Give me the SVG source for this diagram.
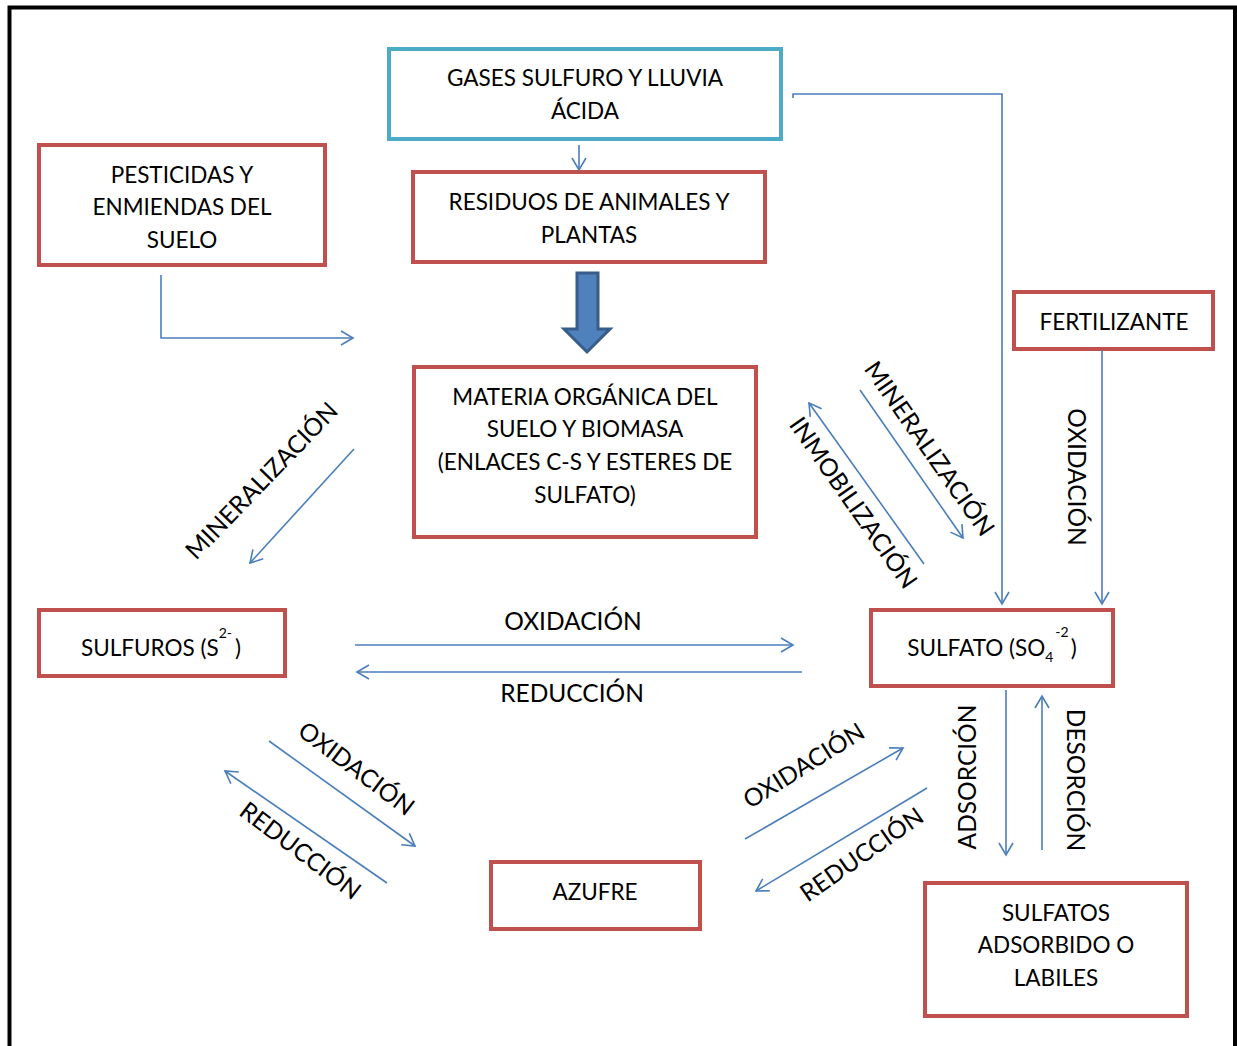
<svg xmlns="http://www.w3.org/2000/svg" width="1237" height="1046" viewBox="0 0 1237 1046">
<style>
.box{fill:#fff;stroke:#C0504D;stroke-width:4}
.cyan{fill:#fff;stroke:#4BACC6;stroke-width:4}
.t{font-family:Lato,"Open Sans",sans-serif;font-size:22.5px;fill:#000;text-anchor:middle}
.l{font-family:Lato,"Open Sans",sans-serif;font-size:24.5px;fill:#000;text-anchor:middle}
.c{fill:none;stroke:#4A7EBB;stroke-width:1.6}
</style>
<defs>
<marker id="ah" markerUnits="userSpaceOnUse" viewBox="-14 -9 16 18" markerWidth="16" markerHeight="18" refX="0" refY="0" orient="auto" overflow="visible">
<path d="M-12,-7 L0,0 L-12,7" fill="none" stroke="#4A7EBB" stroke-width="1.6"/>
</marker>
</defs>
<rect width="1237" height="1046" fill="#fff"/>
<path d="M9.5,1046 V7.5 H1235 V1046" fill="none" stroke="#000" stroke-width="4"/>

<g id="gases"><rect class="cyan" x="389" y="49" width="392" height="90"/>
<text class="t" x="585" y="86">GASES SULFURO Y LLUVIA</text><text class="t" x="585" y="119">ÁCIDA</text></g>
<g id="residuos"><rect class="box" x="413" y="172" width="352" height="90"/>
<text class="t" x="589" y="210">RESIDUOS DE ANIMALES Y</text><text class="t" x="589" y="243">PLANTAS</text></g>
<g id="pesticidas"><rect class="box" x="39" y="145" width="286" height="120"/>
<text class="t" x="182" y="183">PESTICIDAS Y</text><text class="t" x="182" y="215">ENMIENDAS DEL</text><text class="t" x="182" y="248">SUELO</text></g>
<g id="materia"><rect class="box" x="414" y="367" width="342" height="170"/>
<text class="t" x="585" y="405">MATERIA ORGÁNICA DEL</text><text class="t" x="585" y="437">SUELO Y BIOMASA</text><text class="t" x="585" y="470">(ENLACES C-S Y ESTERES DE</text><text class="t" x="585" y="503">SULFATO)</text></g>
<g id="fertilizante"><rect class="box" x="1014" y="292" width="199" height="57"/>
<text class="t" x="1114" y="330">FERTILIZANTE</text></g>
<g id="sulfuros"><rect class="box" x="39" y="610" width="246" height="66"/>
<text class="t" x="161" y="656">SULFUROS (S<tspan font-size="14" dy="-18">2-</tspan><tspan dy="18" dx="3">)</tspan></text></g>
<g id="sulfato"><rect class="box" x="871" y="610" width="242" height="76"/>
<text class="t" x="992" y="656">SULFATO (SO<tspan font-size="14" dy="6">4</tspan><tspan font-size="14" dy="-25" dx="2">-2</tspan><tspan dy="19" dx="2">)</tspan></text></g>
<g id="azufre"><rect class="box" x="491" y="862" width="209" height="67"/>
<text class="t" x="595" y="900">AZUFRE</text></g>
<g id="adsorbido"><rect class="box" x="925" y="883" width="262" height="133"/>
<text class="t" x="1056" y="921">SULFATOS</text><text class="t" x="1056" y="953">ADSORBIDO O</text><text class="t" x="1056" y="986">LABILES</text></g>

<g id="connectors">
<line class="c" x1="579" y1="145" x2="579" y2="170" marker-end="url(#ah)"/>
<path d="M577,273 H598 V329 H610 L587,352 L564,329 H577 Z" fill="#4F81BD" stroke="#385D8A" stroke-width="3"/>
<polyline class="c" points="161,275 161,338 353,338" marker-end="url(#ah)"/>
<polyline class="c" points="793,98 793,94 1002,94 1002,604" marker-end="url(#ah)"/>
<line class="c" x1="1102" y1="350" x2="1102" y2="604" marker-end="url(#ah)"/>
<line class="c" x1="354" y1="449" x2="250" y2="563" marker-end="url(#ah)"/>
<line class="c" x1="860" y1="390" x2="963" y2="538" marker-end="url(#ah)"/>
<line class="c" x1="924" y1="564" x2="809" y2="403" marker-end="url(#ah)"/>
<line class="c" x1="355" y1="645" x2="793" y2="645" marker-end="url(#ah)"/>
<line class="c" x1="802" y1="672" x2="357" y2="672" marker-end="url(#ah)"/>
<line class="c" x1="269" y1="741" x2="415" y2="846" marker-end="url(#ah)"/>
<line class="c" x1="387" y1="883" x2="225" y2="771" marker-end="url(#ah)"/>
<line class="c" x1="745" y1="839" x2="903" y2="748" marker-end="url(#ah)"/>
<line class="c" x1="927" y1="788" x2="756" y2="891" marker-end="url(#ah)"/>
<line class="c" x1="1006" y1="690" x2="1006" y2="855" marker-end="url(#ah)"/>
<line class="c" x1="1042" y1="850" x2="1042" y2="696" marker-end="url(#ah)"/>
</g>

<g id="labels">
<text class="l" transform="translate(262,481) rotate(-46)" y="8">MINERALIZACIÓN</text>
<text class="l" transform="translate(929,449) rotate(55)" y="8">MINERALIZACIÓN</text>
<text class="l" transform="translate(853,503) rotate(55)" y="8">INMOBILIZACIÓN</text>
<text class="l" transform="translate(1076,477) rotate(90)" y="8">OXIDACIÓN</text>
<text class="l" x="573" y="630">OXIDACIÓN</text>
<text class="l" x="572" y="702">REDUCCIÓN</text>
<text class="l" transform="translate(356,769) rotate(37)" y="8">OXIDACIÓN</text>
<text class="l" transform="translate(300,851) rotate(37)" y="8">REDUCCIÓN</text>
<text class="l" transform="translate(804,766) rotate(-32)" y="8">OXIDACIÓN</text>
<text class="l" transform="translate(862,855) rotate(-35)" y="8">REDUCCIÓN</text>
<text class="l" transform="translate(968,777) rotate(-90)" y="8">ADSORCIÓN</text>
<text class="l" transform="translate(1075,780) rotate(90)" y="8">DESORCIÓN</text>
</g>
</svg>
